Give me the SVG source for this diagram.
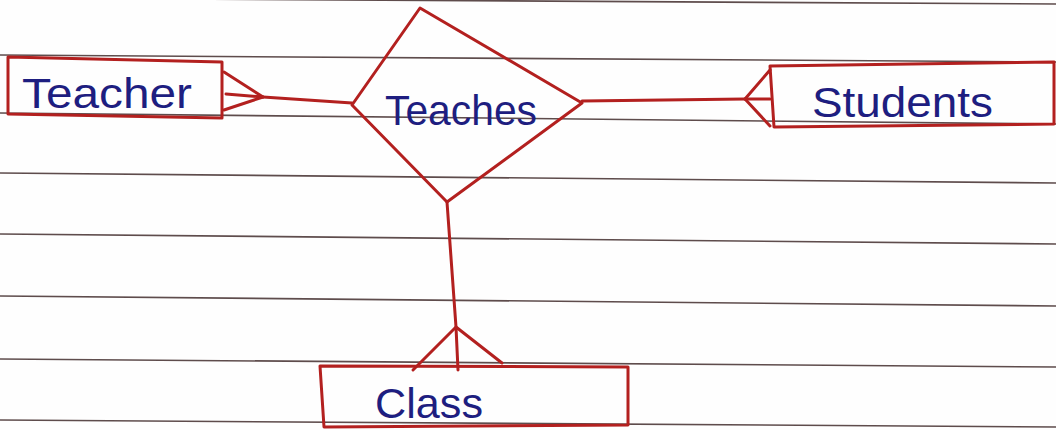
<svg xmlns="http://www.w3.org/2000/svg" width="1056" height="430" viewBox="0 0 1056 430">
<style>
.paper{stroke:#5e4c4c;stroke-width:1.6;fill:none}
.ink{stroke:#b3201f;stroke-width:3;fill:none;stroke-linecap:round;stroke-linejoin:round}
.box{stroke:#b3201f;stroke-width:3;fill:none;stroke-linejoin:round}
.lbl{font-family:"Liberation Sans","DejaVu Sans",sans-serif;font-size:43px;fill:#1e1e80}
</style>
<rect x="0" y="0" width="1056" height="430" fill="#fefefe"/>
<g id="ruled-lines">
<line class="paper" x1="0" y1="-2" x2="1056" y2="4"/>
<line class="paper" x1="0" y1="55" x2="1056" y2="62"/>
<line class="paper" x1="0" y1="113" x2="1056" y2="124"/>
<line class="paper" x1="0" y1="173" x2="1056" y2="183"/>
<line class="paper" x1="0" y1="234" x2="1056" y2="244"/>
<line class="paper" x1="0" y1="296" x2="1056" y2="306"/>
<line class="paper" x1="0" y1="359" x2="1056" y2="367"/>
<line class="paper" x1="0" y1="420" x2="1056" y2="427"/>
</g>
<g id="connectors">
<polyline class="ink" points="263,97 352,103"/>
<polyline class="ink" points="224,72 263,97 224,110"/>
<polyline class="ink" points="226,94 263,97"/>
<polyline class="ink" points="582,101 745,99"/>
<polyline class="ink" points="770,70 745,99 770,126"/>
<polyline class="ink" points="745,99 770,99"/>
<polyline class="ink" points="447,202 456,327 458,370"/>
<polyline class="ink" points="413,370 456,327 502,363"/>
</g>
<g id="node-teacher">
<path class="box" d="M8,57 L222,62 L222,118 L8,114 Z"/>
<text class="lbl" x="22" y="108" textLength="170" lengthAdjust="spacingAndGlyphs">Teacher</text>
</g>
<g id="node-teaches">
<path class="box" d="M420,8 L582,103 L447,202 L352,105 Z"/>
<text class="lbl" x="385" y="125" textLength="152" lengthAdjust="spacingAndGlyphs">Teaches</text>
</g>
<g id="node-students">
<path class="box" d="M770,66 L1054,62 L1054,124 L774,127 Z"/>
<text class="lbl" x="812" y="117" textLength="181" lengthAdjust="spacingAndGlyphs">Students</text>
</g>
<g id="node-class">
<path class="box" d="M320,366 L628,367 L628,425 L324,427 Z"/>
<text class="lbl" x="375" y="418" textLength="108" lengthAdjust="spacingAndGlyphs">Class</text>
</g>
</svg>
